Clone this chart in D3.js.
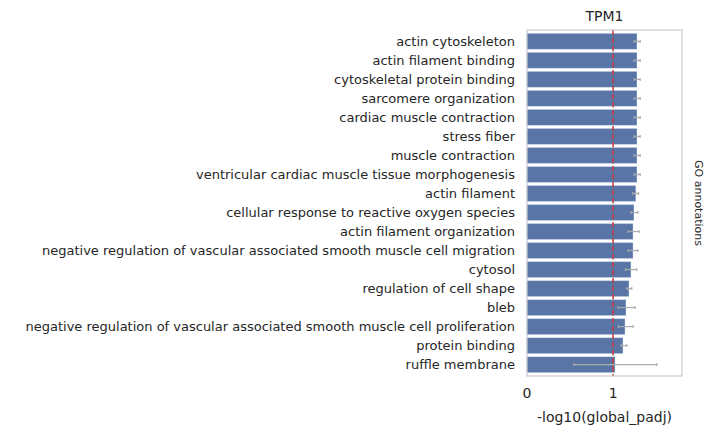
<!DOCTYPE html><html><head><meta charset="utf-8"><script src="https://cdn.jsdelivr.net/npm/d3@7"></script>
<style>body{margin:0;background:#fff}text{font-family:"DejaVu Sans","Liberation Sans",sans-serif}</style></head><body><svg id="c" width="713" height="435"></svg>
<script>
const categories=["actin cytoskeleton","actin filament binding","cytoskeletal protein binding","sarcomere organization","cardiac muscle contraction","stress fiber","muscle contraction","ventricular cardiac muscle tissue morphogenesis","actin filament","cellular response to reactive oxygen species","actin filament organization","negative regulation of vascular associated smooth muscle cell migration","cytosol","regulation of cell shape","bleb","negative regulation of vascular associated smooth muscle cell proliferation","protein binding","ruffle membrane"];
const values=[1.275,1.275,1.275,1.275,1.275,1.275,1.275,1.275,1.26,1.24,1.229,1.229,1.205,1.182,1.147,1.136,1.112,1.02];
const errLow=[1.244,1.244,1.244,1.244,1.244,1.244,1.244,1.244,1.229,1.205,1.174,1.174,1.143,1.159,1.058,1.062,1.093,0.547];
const errHigh=[1.314,1.314,1.314,1.314,1.314,1.314,1.314,1.314,1.295,1.287,1.302,1.287,1.275,1.217,1.256,1.233,1.159,1.508];
const xTicks=[0,1];
const svg=d3.select("#c");
const L=527,R=682,T=30,B=376;
const x=d3.scaleLinear().domain([0,1.8]).range([L,R]);
const y=d3.scaleBand().domain(categories).range([T,B]).padding(0.2);
svg.selectAll("rect.b").data(categories).join("rect").attr("x",x(0)).attr("y",d=>y(d)).attr("height",y.bandwidth()).attr("width",(d,i)=>x(values[i])-x(0)).attr("fill","#5875a6").attr("stroke","#6f8bbb").attr("stroke-width",0.5);
const eg=svg.append("g").attr("stroke","#aaaaaa").attr("stroke-width",1.2);
categories.forEach((d,i)=>{const cy=y(d)+y.bandwidth()/2;
 eg.append("line").attr("x1",x(errLow[i])).attr("x2",x(errHigh[i])).attr("y1",cy).attr("y2",cy);
 [errLow[i],errHigh[i]].forEach(v=>eg.append("line").attr("x1",x(v)).attr("x2",x(v)).attr("y1",cy-1.5).attr("y2",cy+1.5));});
svg.append("line").attr("x1",x(1)).attr("x2",x(1)).attr("y1",T).attr("y2",B).attr("stroke","#c9383a").attr("stroke-width",1.5).attr("stroke-dasharray","5.5,2.5");
svg.append("rect").attr("x",L).attr("y",T).attr("width",R-L).attr("height",B-T).attr("fill","none").attr("stroke","#cccccc").attr("stroke-width",1.2);
svg.append("g").selectAll("text").data(categories).join("text").attr("x",L-12).attr("y",d=>y(d)+y.bandwidth()/2).attr("dy","0.35em").attr("text-anchor","end").attr("font-size",13).attr("fill","#262626").text(d=>d);
svg.append("g").selectAll("text").data(xTicks).join("text").attr("x",d=>x(d)).attr("y",B+22).attr("text-anchor","middle").attr("font-size",14).attr("fill","#262626").text(d=>d);
svg.append("text").attr("x",(L+R)/2).attr("y",B+46).attr("text-anchor","middle").attr("font-size",14).attr("fill","#262626").text("-log10(global_padj)");
svg.append("text").attr("x",(L+R)/2).attr("y",T-9).attr("text-anchor","middle").attr("font-size",14).attr("fill","#262626").text("TPM1");
svg.append("text").attr("transform",`translate(695,${(T+B)/2}) rotate(90)`).attr("text-anchor","middle").attr("font-size",11).attr("fill","#262626").text("GO annotations");
</script></body></html>
